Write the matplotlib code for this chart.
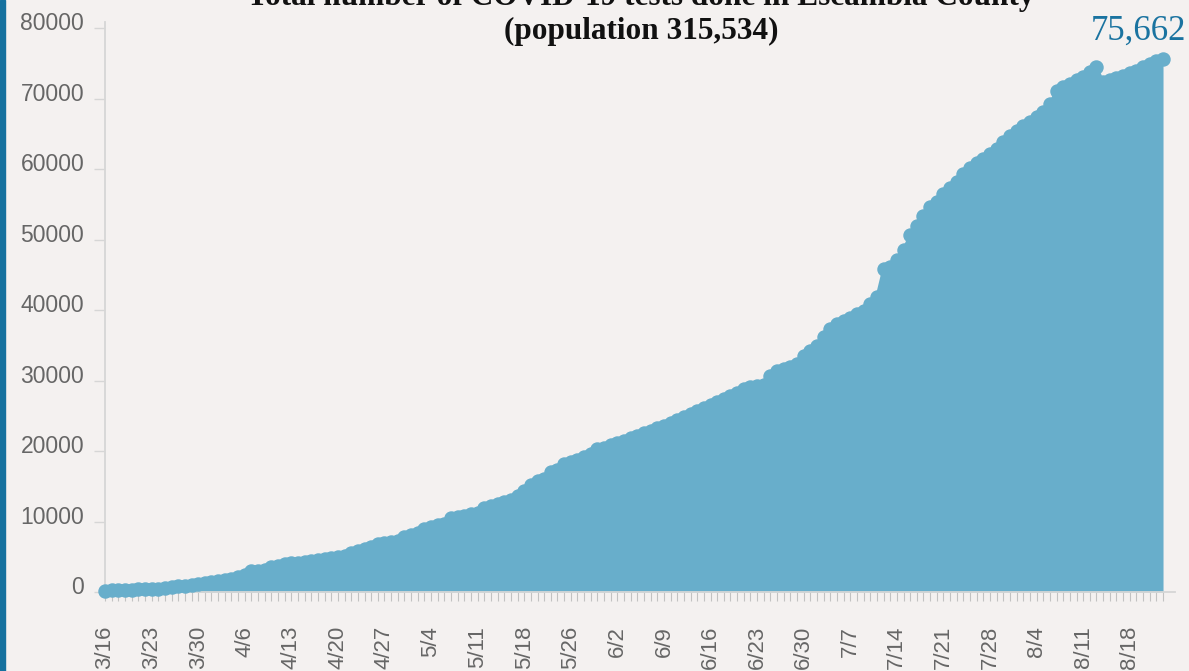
import matplotlib
matplotlib.use("Agg")
import matplotlib.pyplot as plt
from matplotlib.patches import Rectangle
from matplotlib.transforms import ScaledTranslation
import numpy as np
import pandas as pd

# ---- data -------------------------------------------------------------
start_date = "2020-03-16"
end_date = "2020-08-23"
missing_dates = ["2020-05-25"]

tests = [
    210, 260, 290, 320, 340, 370, 400, 430, 480, 560,
    680, 800, 900, 1030, 1150, 1270, 1390, 1540, 1700, 1880,
    2150, 2400, 2950, 3000, 3150, 3550, 3750, 3950, 4050, 4150,
    4300, 4450, 4600, 4750, 4880, 5000, 5150, 5500, 5750, 6050,
    6350, 6800, 6950, 7100, 7300, 7750, 8050, 8350, 8900, 9250,
    9500, 9700, 10450, 10650, 10850, 11050, 11200, 11900, 12200, 12500,
    12800, 13050, 13600, 14300, 15250, 15700, 16050, 17050, 17350, 18150,
    18500, 18800, 19100, 19650, 20250, 20500, 20800, 21150, 21500, 21850,
    22200, 22500, 22850, 23250, 23600, 23950, 24400, 24850, 25300, 25700,
    26100, 26500, 27000, 27400, 27800, 28300, 28800, 29050, 29200, 29400,
    30600, 31300, 31600, 31900, 32300, 33500, 34200, 34900, 36200, 37300,
    38100, 38500, 38900, 39400, 39900, 40900, 41900, 45800, 46100, 47100,
    48600, 50600, 51900, 53300, 54700, 55300, 56500, 57400, 58200, 59300,
    60200, 60900, 61500, 62100, 62900, 63900, 64700, 65500, 66100, 66700,
    67400, 68100, 69300, 71100, 71700, 72100, 72600, 73100, 73800, 74500,
    72400, 72700, 72900, 73300, 73600, 74000, 74500, 74900, 75300, 75662,
]

tick_labels = ["3/16", "3/23", "3/30", "4/6", "4/13", "4/20", "4/27", "5/4",
               "5/11", "5/18", "5/26", "6/2", "6/9", "6/16", "6/23", "6/30",
               "7/7", "7/14", "7/21", "7/28", "8/4", "8/11", "8/18"]
y_ticks = [0, 10000, 20000, 30000, 40000, 50000, 60000, 70000, 80000]

title_line1 = "Total number of COVID-19 tests done in Escambia County"
title_line2 = "(population 315,534)"
last_label = "75,662"

# ---- categories ---------------------------------------------------------
dr = pd.date_range(start_date, end_date)
dr = dr[~dr.isin(pd.to_datetime(missing_dates))]
categories = [f"{d.month}/{d.day}" for d in dr]

# ---- style ----------------------------------------------------------------
BG = "#f4f1f0"
AREA = "#68aecb"
GRID = "#d6d6d6"
TXT = "#666666"
W, H = 1189, 671

fig = plt.figure(figsize=(W / 100, H / 100), dpi=100)
fig.patch.set_facecolor(BG)
ax = fig.add_axes([105 / W, 79 / H, 1070 / W, 570 / H])
ax.set_facecolor(BG)

x = np.arange(len(tests))
ax.fill_between(x, tests, 0, color=AREA, lw=0, zorder=2)
ax.plot(x, tests, color=AREA, lw=2, marker="o", ms=9.4, mfc=AREA, mec=AREA,
        clip_on=False, zorder=3)

ax.set_xlim(0, 160.8)
ax.set_ylim(0, 80900)

for s in ("top", "right"):
    ax.spines[s].set_visible(False)
for s in ("left", "bottom"):
    ax.spines[s].set_color(GRID)
    ax.spines[s].set_linewidth(1.3)

ax.set_yticks(y_ticks)
ax.set_yticklabels([str(v) for v in y_ticks])
ax.tick_params(axis="y", length=8, width=1, color=GRID, pad=7,
               labelsize=16.5, labelcolor=TXT)
for lab in ax.get_yticklabels():
    lab.set_fontfamily("Liberation Sans")
    lab.set_transform(lab.get_transform() +
                      ScaledTranslation(0, 7 / 100, fig.dpi_scale_trans))

pos = [categories.index(t) for t in tick_labels]
ax.set_xticks(pos)
ax.set_xticklabels(tick_labels, rotation=90)
ax.set_xticks(x, minor=True)
ax.tick_params(axis="x", which="both", length=6.5, width=0.8, color="#c2c2c2",
               direction="out")
ax.tick_params(axis="x", which="major", pad=18, labelsize=16,
               labelcolor=TXT)
for lab in ax.get_xticklabels():
    lab.set_fontfamily("Liberation Sans")

# left accent bar
fig.patches.append(Rectangle((0, 0), 5 / W, 1, transform=fig.transFigure,
                             color="#15719f", zorder=0))

fig.text(641 / W, (H - 5) / H, title_line1, ha="center", va="baseline",
         fontsize=22.5, fontweight="bold", family="Liberation Serif",
         color="#111111")
fig.text(641 / W, (H - 39) / H, title_line2, ha="center", va="baseline",
         fontsize=22.5, fontweight="bold", family="Liberation Serif",
         color="#111111")
fig.text(1186 / W, (H - 40) / H, last_label, ha="right", va="baseline",
         fontsize=25, family="Liberation Serif", color="#1a73a0")

fig.savefig("out.png", dpi=100, facecolor=BG)
